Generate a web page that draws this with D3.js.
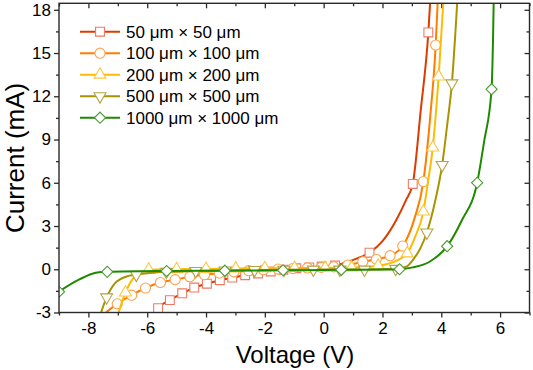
<!DOCTYPE html>
<html>
<head>
<meta charset="utf-8">
<script src="https://cdn.jsdelivr.net/npm/d3@7"></script>
<style>
  body { margin: 0; background: #fff; }
  text { font-family: Arial, "Liberation Sans", sans-serif; }
</style>
</head>
<body>
<div id="chart"></div>
<script>

const xAxisTitle = 'Voltage (V)';
const yAxisTitle = 'Current (mA)';

const labels = [ '50 μm × 50 μm', '100 μm × 100 μm', '200 μm × 200 μm', '500 μm × 500 μm', '1000 μm × 1000 μm' ];

const xTicks = [ -8, -6, -4, -2, 0, 2, 4, 6 ];
const yTicks = [ -3, 0, 3, 6, 9, 12, 15, 18 ];

// [ voltage, current ] points that carry a symbol
const marks50 = [ [-5.63,-2.7], [-5.23,-2.14], [-4.81,-1.67], [-4.40,-1.27], [-3.97,-1.0], [-3.53,-0.76],
  [-3.11,-0.58], [-2.67,-0.41], [-2.23,-0.29], [-1.80,-0.15], [-1.37,-0.03], [-0.93,0.07], [-0.49,0.13],
  [-0.07,0.19], [0.39,0.26], [1.56,1.15], [3.03,5.92], [3.56,16.43] ];
// extra points of the curve without a symbol
const extra50 = [ [-5.85,-3.6], [0.8,0.5], [1.1,0.72], [2.0,1.95], [2.47,3.42], [2.8,4.8], [3.3,11.0], [3.65,19.5] ];

const marks100 = [ [-7.02,-2.4], [-6.53,-1.8], [-6.06,-1.3], [-5.55,-0.92], [-5.05,-0.72], [-4.55,-0.52],
  [-4.05,-0.38], [-3.55,-0.27], [-3.05,-0.18], [-2.55,-0.1], [-2.05,-0.04], [-1.55,0.01], [-1.05,0.05],
  [-0.55,0.09], [-0.08,0.13], [0.34,0.17], [0.82,0.29], [1.33,0.52], [1.79,0.69], [2.26,0.94], [2.69,1.61],
  [3.39,6.08], [3.81,15.55] ];
const extra100 = [ [-7.7,-3.5], [3.1,3.6], [3.62,10.5], [3.9,19.5] ];

const marks200 = [ [-6.74,-1.62], [-5.95,-0.03], [-5.0,0.0], [-4.0,0.02], [-2.99,0.05], [-2.0,0.07],
  [-0.99,0.09], [0.05,0.1], [0.95,0.12], [1.85,0.25], [2.84,1.1], [3.39,4.0], [3.71,8.44], [3.91,13.37] ];
const extra200 = [ [-7.05,-3.5], [-6.48,-0.63], [-6.2,-0.18], [2.52,0.64], [3.1,2.2], [3.55,6.1], [4.1,19.5] ];

const marks500 = [ [-7.38,-1.95], [-6.37,-0.38], [-5.35,-0.18], [-4.35,-0.12], [-3.35,-0.08], [-2.35,-0.05],
  [-1.35,-0.03], [-0.35,-0.02], [0.55,-0.02], [1.39,-0.02], [2.45,0.03], [3.51,2.55], [4.03,7.24], [4.36,12.9] ];
const extra500 = [ [-7.65,-3.5], [-7.1,-0.98], [-6.7,-0.5], [2.81,0.18], [3.03,0.64], [3.3,1.5], [3.8,4.8],
  [4.2,10.0], [4.57,19.5] ];

const marks1000 = [ [-9.0,-1.56], [-7.36,-0.18], [-5.34,-0.12], [-3.36,-0.1], [-1.38,-0.07], [0.6,-0.04],
  [2.58,0.0], [4.2,1.6], [5.22,6.0], [5.71,12.49] ];
const extra1000 = [ [-9.3,-2.0], [-8.29,-0.69], [-7.75,-0.25], [3.03,0.13], [3.6,0.52], [4.7,3.4], [5.46,8.9],
  [5.76,16.0], [5.79,19.5] ];

const lineColors = [ '#dc3c00', '#ff7d00', '#ffbb00', '#a89400', '#1e8a00' ];
const markColors = [ '#ef7a64', '#ffa24c', '#ffc63c', '#b4a444', '#4c9a34' ];
const shapes = [ 'square', 'circle', 'up', 'down', 'diamond' ];

const series = [
  [ marks50, extra50 ], [ marks100, extra100 ], [ marks200, extra200 ], [ marks500, extra500 ], [ marks1000, extra1000 ]
].map( function( s, i ) {
  return {
    label: labels[i],
    marks: s[0],
    line: s[0].concat( s[1] ).sort( function( a, b ) { return a[0] - b[0]; } ),
    color: lineColors[i],
    markColor: markColors[i],
    shape: shapes[i]
  };
});

const figure_width = 533;
const figure_height = 370;

const plot_margin = { top: 3.3, right: 3.5, bottom: 57.5, left: 59 },
    plot_width = figure_width - plot_margin.left - plot_margin.right,
    plot_height = figure_height - plot_margin.top - plot_margin.bottom;

const root = d3.select( 'div#chart' )
  .append( 'svg' )
    .attr( 'width', figure_width )
    .attr( 'height', figure_height );

const svg = root.append( 'g' )
    .attr( 'transform', 'translate( ' + plot_margin.left + ', ' + plot_margin.top + ' )' );

const x = d3.scaleLinear().domain( [ -9, 7 ] ).range( [ 0, plot_width ] );
const y = d3.scaleLinear().domain( [ -3, 18.45 ] ).range( [ plot_height, 0 ] );

const xMinor = d3.range( -9, 8, 1 ).filter( function( d ) { return xTicks.indexOf( d ) < 0; } );
const yMinor = d3.range( -1.5, 18.1, 3 );

const fmt = function( d ) { return String( d ); };
const axisColor = '#2a2a2a';

function styleAxis( g ) {
  g.select( '.domain' ).remove();
  g.selectAll( 'line' ).attr( 'stroke', axisColor ).attr( 'stroke-width', 1.3 );
  g.selectAll( 'text' ).attr( 'fill', '#000' ).style( 'font-size', '17px' );
}

// bottom + left: ticks outward, top + right: ticks inward
svg.append( 'g' ).attr( 'transform', 'translate(0,' + plot_height + ')' )
  .call( d3.axisBottom( x ).tickValues( xTicks ).tickFormat( fmt ).tickSize( 5 ).tickPadding( 4 ) ).call( styleAxis );
svg.append( 'g' ).attr( 'transform', 'translate(0,' + plot_height + ')' )
  .call( d3.axisBottom( x ).tickValues( xMinor ).tickFormat( '' ).tickSize( 3 ) ).call( styleAxis );
svg.append( 'g' )
  .call( d3.axisLeft( y ).tickValues( yTicks ).tickFormat( fmt ).tickSize( 5 ).tickPadding( 3 ) ).call( styleAxis );
svg.append( 'g' )
  .call( d3.axisLeft( y ).tickValues( yMinor ).tickFormat( '' ).tickSize( 3 ) ).call( styleAxis );
svg.append( 'g' )
  .call( d3.axisTop( x ).tickValues( xTicks ).tickFormat( '' ).tickSize( -5 ) ).call( styleAxis );
svg.append( 'g' )
  .call( d3.axisTop( x ).tickValues( xMinor ).tickFormat( '' ).tickSize( -3 ) ).call( styleAxis );
svg.append( 'g' ).attr( 'transform', 'translate(' + plot_width + ',0)' )
  .call( d3.axisRight( y ).tickValues( yTicks ).tickFormat( '' ).tickSize( -5 ) ).call( styleAxis );
svg.append( 'g' ).attr( 'transform', 'translate(' + plot_width + ',0)' )
  .call( d3.axisRight( y ).tickValues( yMinor ).tickFormat( '' ).tickSize( -3 ) ).call( styleAxis );

// clip the curves to the frame
svg.append( 'clipPath' ).attr( 'id', 'plotclip' )
  .append( 'rect' ).attr( 'width', plot_width ).attr( 'height', plot_height );

const symbolPath = {
  square: d3.symbol( d3.symbolSquare, 78 )(),
  circle: d3.symbol( d3.symbolCircle, 80 )(),
  up: d3.symbol( d3.symbolTriangle, 62 )(),
  down: d3.symbol( d3.symbolTriangle, 62 )(),
  diamond: d3.symbol( d3.symbolSquare, 62 )()
};
const symbolRotate = { square: 0, circle: 0, up: 0, down: 180, diamond: 45 };

const line = d3.line()
  .x( function( d ) { return x( d[0] ); } )
  .y( function( d ) { return y( d[1] ); } )
  .curve( d3.curveMonotoneX );

const plot = svg.append( 'g' ).attr( 'clip-path', 'url(#plotclip)' );

series.forEach( function( s ) {
  plot.append( 'path' )
    .datum( s.line )
    .attr( 'fill', 'none' )
    .attr( 'stroke', s.color )
    .attr( 'stroke-width', 2 )
    .attr( 'd', line );

  plot.selectAll( null )
    .data( s.marks )
    .enter().append( 'path' )
      .attr( 'd', symbolPath[ s.shape ] )
      .attr( 'transform', function( d ) {
        return 'translate(' + x( d[0] ) + ',' + y( d[1] ) + ') rotate(' + symbolRotate[ s.shape ] + ')';
      })
      .attr( 'fill', '#fff' )
      .attr( 'stroke', s.markColor )
      .attr( 'stroke-width', 1.1 );
});

// frame
svg.append( 'rect' )
  .attr( 'width', plot_width ).attr( 'height', plot_height )
  .attr( 'fill', 'none' ).attr( 'stroke', axisColor ).attr( 'stroke-width', 1.4 );

// legend
const legend = root.append( 'g' );
const legendRow = d3.scaleLinear().domain( [ 0, 4 ] ).range( [ 31.7, 117.7 ] );
series.forEach( function( s, i ) {
  const row = legend.append( 'g' ).attr( 'transform', 'translate(0,' + legendRow( i ) + ')' );
  row.append( 'line' )
    .attr( 'x1', 80 ).attr( 'x2', 120 )
    .attr( 'stroke', s.color ).attr( 'stroke-width', 2 );
  row.append( 'path' )
    .attr( 'd', symbolPath[ s.shape ] )
    .attr( 'transform', 'translate(100,0) rotate(' + symbolRotate[ s.shape ] + ')' )
    .attr( 'fill', '#fff' ).attr( 'stroke', s.markColor ).attr( 'stroke-width', 1.1 );
  row.append( 'text' )
    .attr( 'x', 126 ).attr( 'dy', '0.35em' )
    .style( 'font-size', '17px' )
    .text( s.label );
});

// axis titles
root.append( 'text' )
  .attr( 'x', 295 ).attr( 'y', 363 )
  .attr( 'text-anchor', 'middle' )
  .style( 'font-size', '24px' )
  .text( xAxisTitle );

root.append( 'text' )
  .attr( 'transform', 'translate(24,' + ( plot_margin.top + plot_height / 2 ) + ') rotate(-90)' )
  .attr( 'text-anchor', 'middle' )
  .style( 'font-size', '26px' )
  .text( yAxisTitle );

</script>
</body>
</html>
